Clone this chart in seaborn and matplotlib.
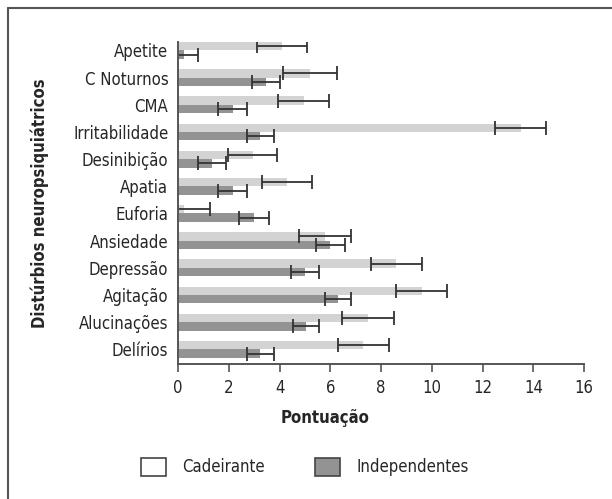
import pandas as pd
import matplotlib
matplotlib.use('Agg')
import matplotlib.pyplot as plt
import seaborn as sns
from matplotlib.patches import Patch
from matplotlib.lines import Line2D

# categorias (de cima para baixo)
disturbios = ['Apetite', 'C Noturnos', 'CMA', 'Irritabilidade', 'Desinibição', 'Apatia',
              'Euforia', 'Ansiedade', 'Depressão', 'Agitação', 'Alucinações', 'Delírios']

cadeirante = [4.1, 5.2, 4.95, 13.5, 2.95, 4.3, 0.25, 5.8, 8.6, 9.6, 7.5, 7.3]
cad_erro = [1.0, 1.05, 1.0, 1.0, 0.97, 0.97, 1.0, 1.03, 1.0, 1.0, 1.03, 1.0]

independentes = [0.25, 3.45, 2.15, 3.25, 1.35, 2.15, 3.0, 6.0, 5.0, 6.3, 5.05, 3.25]
ind_erro = [0.55, 0.55, 0.57, 0.55, 0.55, 0.57, 0.58, 0.57, 0.55, 0.5, 0.52, 0.55]

grupos = ['Cadeirante', 'Independentes']
cores = ['#d3d3d3', '#939393']

df = pd.DataFrame({
    'disturbio': disturbios * 2,
    'grupo': [grupos[0]] * len(disturbios) + [grupos[1]] * len(disturbios),
    'pontuacao': cadeirante + independentes,
    'erro': cad_erro + ind_erro,
})

sns.set_style('white')
plt.rcParams['font.family'] = ['DejaVu Sans']
plt.rcParams['font.stretch'] = 'condensed'

fig = plt.figure(figsize=(6.12, 4.99), dpi=100)
ax = fig.add_axes([178 / 612, 1 - 364 / 499, 406 / 612, 322 / 499])

sns.barplot(data=df, y='disturbio', x='pontuacao', hue='grupo', order=disturbios,
            hue_order=grupos, palette=cores, orient='h', width=0.62, gap=0,
            errorbar=None, legend=False, ax=ax, linewidth=0, saturation=1)

# barras de erro a partir das barras desenhadas
for patch_group, grupo in zip(ax.containers, grupos):
    sub = df[df['grupo'] == grupo].set_index('disturbio').loc[disturbios]
    ys = [p.get_y() + p.get_height() / 2 for p in patch_group]
    ax.errorbar(sub['pontuacao'], ys, xerr=sub['erro'], fmt='none', ecolor='#333333',
                elinewidth=1.3, capsize=5, capthick=1.3)

ax.set_xlim(0, 16)
ax.set_ylim(11.54, -0.31)
ax.set_xticks(range(0, 17, 2))
ax.tick_params(axis='x', length=6, width=1.2, color='#555555', direction='out',
               labelsize=12, pad=5, bottom=True)
ax.tick_params(axis='y', length=0, labelsize=12, pad=7)
sns.despine(ax=ax)
for s in ['left', 'bottom']:
    ax.spines[s].set_color('#555555')
    ax.spines[s].set_linewidth(1.4)

ax.set_xlabel('Pontuação', fontsize=12, fontweight='bold', labelpad=4)
ax.xaxis.set_label_coords(0.362, -0.14)
ax.set_ylabel('Distúrbios neuropsiquiátricos', fontsize=12, fontweight='bold')
ax.yaxis.set_label_coords(-0.318, 0.5)

handles = [Patch(facecolor='white', edgecolor='#444444', linewidth=1.2, label='Cadeirante'),
           Patch(facecolor=cores[1], edgecolor='#444444', linewidth=1.2, label='Independentes')]
fig.legend(handles=handles, loc='center', bbox_to_anchor=(305 / 612, 1 - 467 / 499), ncol=2,
           frameon=False, fontsize=12, handlelength=1.5, handleheight=1.3,
           handletextpad=1.0, columnspacing=3.0)

# moldura
fig.add_artist(Line2D([8 / 612, 8 / 612], [0, 1 - 8 / 499], color='#555555', lw=1.5,
                      transform=fig.transFigure))
fig.add_artist(Line2D([8 / 612, 1], [1 - 8 / 499, 1 - 8 / 499], color='#555555', lw=1.5,
                      transform=fig.transFigure))

fig.savefig('out.png', dpi=100)
